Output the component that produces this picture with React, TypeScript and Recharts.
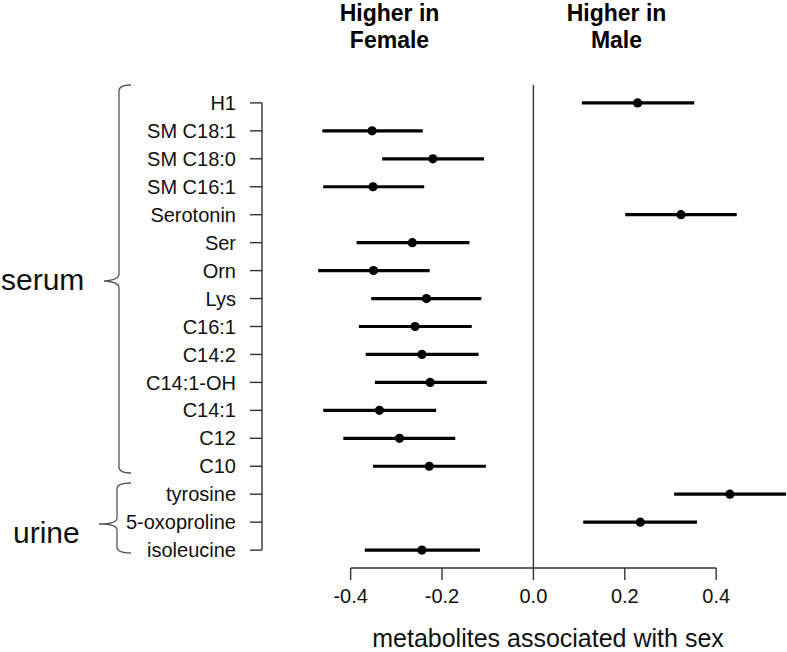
import React from "react";
import {
  ScatterChart,
  Scatter,
  XAxis,
  YAxis,
  ErrorBar,
  ReferenceLine,
} from "recharts";

const METABOLITES = [
  "H1", "SM C18:1", "SM C18:0", "SM C16:1", "Serotonin", "Ser", "Orn", "Lys",
  "C16:1", "C14:2", "C14:1-OH", "C14:1", "C12", "C10",
  "tyrosine", "5-oxoproline", "isoleucine",
];
const ESTIMATE = [
  0.228, -0.353, -0.22, -0.351, 0.323, -0.265, -0.35, -0.234,
  -0.259, -0.244, -0.226, -0.337, -0.293, -0.228,
  0.43, 0.234, -0.244,
];
const LOWER = [
  0.106, -0.462, -0.331, -0.46, 0.201, -0.387, -0.471, -0.355,
  -0.382, -0.367, -0.347, -0.46, -0.416, -0.351,
  0.308, 0.109, -0.369,
];
const UPPER = [
  0.352, -0.242, -0.108, -0.239, 0.445, -0.14, -0.227, -0.114,
  -0.135, -0.12, -0.102, -0.213, -0.171, -0.104,
  0.553, 0.358, -0.117,
];
const X_TICKS = [-0.4, -0.2, 0, 0.2, 0.4];

const X_MIN = -0.594;
const X_MAX = 0.555;
const Y_MIN = 0.36;
const Y_MAX = 17.64;

const FONT = '"Liberation Sans", Arial, Helvetica, sans-serif';
const INK = "#111";
const AXIS = "#333";

const rows = METABOLITES.map((name, i) => ({
  name,
  y: i + 1,
  x: ESTIMATE[i],
  err: [ESTIMATE[i] - LOWER[i], UPPER[i] - ESTIMATE[i]],
}));

const Dot = (props: any) => <circle cx={props.cx} cy={props.cy} r={4.6} fill="#000" />;

export default function App() {
  return (
    <div style={{ position: "absolute", left: 0, top: 0, width: 787, height: 652, background: "#fff" }}>
      <ScatterChart
        width={787}
        height={652}
        margin={{ top: 85, right: 0, bottom: 0, left: 0 }}
        style={{ position: "absolute", left: 0, top: 0 }}
      >
        <XAxis
          type="number"
          dataKey="x"
          domain={[X_MIN, X_MAX]}
          allowDataOverflow
          ticks={X_TICKS}
          tickFormatter={(v: number) => v.toFixed(1)}
          axisLine={false}
          tickLine={{ stroke: AXIS, strokeWidth: 1.4 }}
          tickSize={12}
          tickMargin={9}
          height={84}
          tick={{ fontSize: 20, fill: INK, fontFamily: FONT }}
        />
        <YAxis
          type="number"
          dataKey="y"
          domain={[Y_MIN, Y_MAX]}
          allowDataOverflow
          reversed
          ticks={METABOLITES.map((_, i) => i + 1)}
          interval={0}
          tickFormatter={(v: number) => METABOLITES[v - 1] ?? ""}
          axisLine={false}
          tickLine={{ stroke: AXIS, strokeWidth: 1.4 }}
          tickSize={12}
          tickMargin={14}
          width={262}
          tick={{ fontSize: 20, fill: INK, fontFamily: FONT }}
        />
        <ReferenceLine x={0} stroke={AXIS} strokeWidth={1.4} />
        <ReferenceLine
          segment={[{ x: -0.4, y: Y_MAX }, { x: 0.4, y: Y_MAX }]}
          stroke={AXIS}
          strokeWidth={1.4}
          ifOverflow="visible"
        />
        <ReferenceLine
          segment={[{ x: X_MIN, y: 1 }, { x: X_MIN, y: METABOLITES.length }]}
          stroke={AXIS}
          strokeWidth={1.4}
          ifOverflow="visible"
        />
        <Scatter data={rows} shape={Dot} isAnimationActive={false}>
          <ErrorBar
            dataKey="err"
            direction="x"
            width={0}
            stroke="#000"
            strokeWidth={3.2}
            isAnimationActive={false}
          />
        </Scatter>
      </ScatterChart>

      <svg
        width={787}
        height={652}
        style={{ position: "absolute", left: 0, top: 0, pointerEvents: "none" }}
        fontFamily={FONT}
      >
        <g fontSize={23} fontWeight="bold" fill="#000" textAnchor="middle">
          <text x={389.5} y={21}>Higher in</text>
          <text x={389.5} y={48}>Female</text>
          <text x={616.5} y={21}>Higher in</text>
          <text x={616.5} y={48}>Male</text>
        </g>

        <g fill="none" stroke="#555" strokeWidth={1.3}>
          <path d="M131,85 Q119,85 119,91 L119,274 Q119,280 104,281 Q119,282 119,288 L119,467 Q119,473 131,473" />
          <path d="M131,483 Q117,483 117,489 L117,518 Q117,524 99,524 Q117,524 117,530 L117,547 Q117,553 131,553" />
        </g>

        <g fontSize={30} fill={INK}>
          <text x={1} y={290}>serum</text>
          <text x={13} y={543}>urine</text>
        </g>

        <text x={548} y={647} fontSize={25} fill={INK} textAnchor="middle">
          metabolites associated with sex
        </text>
      </svg>
    </div>
  );
}
